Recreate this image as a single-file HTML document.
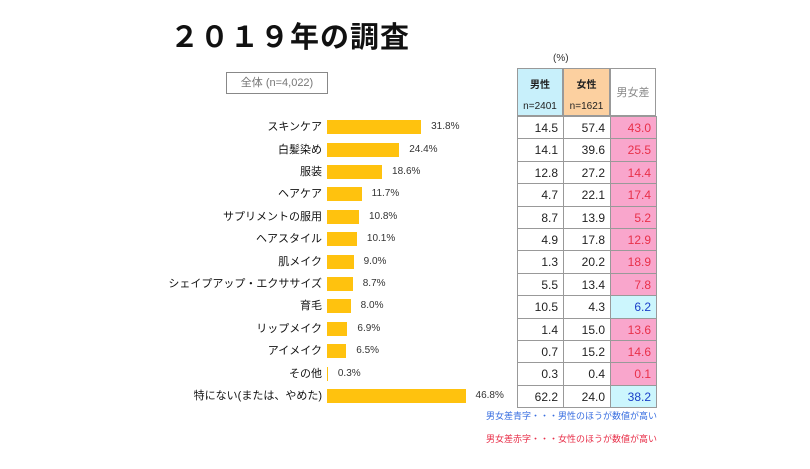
<!DOCTYPE html>
<html><head><meta charset="utf-8">
<style>
body{margin:0;width:810px;height:469px;background:#fff;position:relative;overflow:hidden;font-family:"Liberation Sans","Noto Sans CJK JP",sans-serif;}
.abs{position:absolute;}
</style></head>
<body>
<div class="abs" style="left:170px;top:14px;font-size:29px;font-weight:bold;letter-spacing:1px;color:#111;font-family:'Noto Sans CJK JP',sans-serif;">２０１９年の調査</div>
<div class="abs" style="left:226px;top:72px;width:100px;height:20px;border:1px solid #888;font-size:11px;color:#777;line-height:20px;text-align:center;">全体 (n=4,022)</div>
<div class="abs" style="left:553px;top:53px;font-size:10px;color:#333;">(%)</div>
<div id="chart"></div>
<div class="abs" style="left:486px;top:409px;font-size:9px;color:#3a6fe0;">男女差青字・・・男性のほうが数値が高い</div>
<div class="abs" style="left:486px;top:432px;font-size:9px;color:#e8304a;">男女差赤字・・・女性のほうが数値が高い</div>
<script>
const categories=["スキンケア","白髪染め","服装","ヘアケア","サプリメントの服用","ヘアスタイル","肌メイク","シェイプアップ・エクササイズ","育毛","リップメイク","アイメイク","その他","特にない(または、やめた)"];
const overall=[31.8,24.4,18.6,11.7,10.8,10.1,9.0,8.7,8.0,6.9,6.5,0.3,46.8];
const male=[14.5,14.1,12.8,4.7,8.7,4.9,1.3,5.5,10.5,1.4,0.7,0.3,62.2];
const female=[57.4,39.6,27.2,22.1,13.9,17.8,20.2,13.4,4.3,15.0,15.2,0.4,24.0];
const diff=[43.0,25.5,14.4,17.4,5.2,12.9,18.9,7.8,6.2,13.6,14.6,0.1,38.2];

const root=document.getElementById('chart');
const barX=327, pxPer=2.96, top0=116, rowH=22.4;
const xScale=v=>v*pxPer;
const yRow=i=>top0+rowH*i;
const cols=[517,563,610,656];

function div(style,text){const d=document.createElement('div');d.className='abs';d.style.cssText=style;if(text!==undefined)d.textContent=text;root.appendChild(d);return d;}

// header
let h=div(`left:${cols[0]}px;top:68px;width:${cols[1]-cols[0]}px;height:48px;background:#c8f0fb;border:1px solid #999;box-sizing:border-box;text-align:center;font-size:10px;color:#222;`);
h.innerHTML='<div style="font-weight:bold;margin-top:7px">男性</div><div style="margin-top:10px">n=2401</div>';


h=div(`left:${cols[1]}px;top:68px;width:${cols[2]-cols[1]}px;height:48px;background:#fcd0a0;border:1px solid #999;box-sizing:border-box;text-align:center;font-size:10px;color:#222;`);
h.innerHTML='<div style="font-weight:bold;margin-top:7px">女性</div><div style="margin-top:10px">n=1621</div>';


h=div(`left:${cols[2]}px;top:68px;width:${cols[3]-cols[2]}px;height:48px;background:#fff;border:1px solid #999;box-sizing:border-box;text-align:center;font-size:11px;color:#888;line-height:48px;`,'男女差');



categories.forEach((c,i)=>{
  const y=yRow(i), cy=y+rowH/2;
  const lab=div(`right:${810-barX+5}px;top:${cy-8}px;font-size:11px;color:#111;white-space:nowrap;line-height:16px;`,c);
  
  
  const w=xScale(overall[i]);
  const bar=div(`left:${barX}px;top:${cy-7}px;width:${Math.max(w,1)}px;height:14px;background:#ffc20e;`);
  
  
  const v=div(`left:${barX+w+10}px;top:${cy-7}px;font-size:10px;color:#333;line-height:14px;`,overall[i].toFixed(1)+'%');
  
  
  const vals=[male[i],female[i],diff[i]];
  const blue=male[i]>female[i];
  vals.forEach((val,j)=>{
    let bg='#fff',col='#222';
    if(j==2){bg=blue?'#ccf6fd':'#f9a6cc';col=blue?'#1a3fc8':'#e8304a';}
    const cell=div(`left:${cols[j]}px;top:${y}px;width:${cols[j+1]-cols[j]+1}px;height:${rowH+1}px;box-sizing:border-box;border:1px solid #999;background:${bg};color:${col};font-size:12px;text-align:right;padding-right:5px;line-height:${rowH}px;`,val.toFixed(1));
    
    
  });
});
</script>
</body></html>
